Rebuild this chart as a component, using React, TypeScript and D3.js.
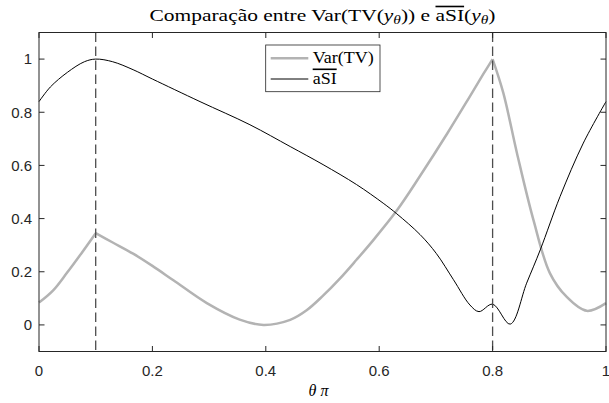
import * as d3 from "d3";

// theta/pi sample positions and values
const tVar = [0, 0.025, 0.049, 0.075, 0.1, 0.13, 0.166, 0.2, 0.237, 0.296, 0.354, 0.396, 0.443, 0.472, 0.501, 0.531, 0.56, 0.59, 0.631, 0.672, 0.72, 0.76, 0.784, 0.8, 0.819, 0.843, 0.872, 0.901, 0.93, 0.966, 1];
const varTV = [0.084, 0.13, 0.195, 0.27, 0.345, 0.31, 0.268, 0.222, 0.168, 0.082, 0.02, 0, 0.019, 0.055, 0.11, 0.175, 0.245, 0.32, 0.43, 0.56, 0.72, 0.86, 0.945, 1, 0.872, 0.646, 0.395, 0.195, 0.107, 0.053, 0.082];
const varKinks = [0.1, 0.8];

const tSI = [0, 0.02, 0.05, 0.08, 0.1, 0.13, 0.166, 0.2, 0.284, 0.372, 0.443, 0.501, 0.56, 0.607, 0.631, 0.672, 0.701, 0.731, 0.76, 0.776, 0.8, 0.831, 0.86, 0.884, 0.919, 0.96, 1];
const aSI = [0.84, 0.895, 0.95, 0.99, 1, 0.99, 0.96, 0.925, 0.84, 0.753, 0.671, 0.603, 0.528, 0.458, 0.418, 0.34, 0.268, 0.17, 0.075, 0.05, 0.078, 0.003, 0.157, 0.282, 0.483, 0.684, 0.84];

const markers = [0.1, 0.8];
const xTicks = [0, 0.2, 0.4, 0.6, 0.8, 1];
const yTicks = [0, 0.2, 0.4, 0.6, 0.8, 1];

const W = 609, H = 403;
const L = 39, R = 606, T = 32.5, B = 351.5;
const axisCol = "#262626";
const sans = "Liberation Sans, Arial, sans-serif";
const serif = "Liberation Serif, Times New Roman, serif";

export default function App() {
  const x = d3.scaleLinear().domain([0, 1]).range([L, R]);
  const y = d3.scaleLinear().domain([-0.1, 1.1]).range([B, T]);
  const line = d3
    .line<[number, number]>()
    .x((d) => x(d[0]))
    .y((d) => y(d[1]))
    .curve(d3.curveCatmullRom.alpha(0.5));

  // split the Var(TV) curve at its corners so they stay sharp
  const varPts: [number, number][] = tVar.map((t, i) => [t, varTV[i]]);
  const cuts = [0, ...varKinks.map((k) => tVar.indexOf(k)), tVar.length - 1];
  const varPaths = cuts.slice(1).map((c, i) => line(varPts.slice(cuts[i], c + 1)) as string);
  const siPath = line(tSI.map((t, i) => [t, aSI[i]] as [number, number])) as string;

  const tick = 5.5;
  return (
    <svg width={W} height={H} style={{ position: "absolute", left: 0, top: 0, background: "#fff" }}>
      <rect x={L} y={T} width={R - L} height={B - T} fill="#fff" />
      {varPaths.map((p, i) => (
        <path key={i} d={p} fill="none" stroke="#b3b3b3" strokeWidth={2.5} strokeLinejoin="round" />
      ))}
      <path d={siPath} fill="none" stroke="#000" strokeWidth={1} />
      {markers.map((m) => (
        <line key={m} x1={x(m)} x2={x(m)} y1={T} y2={B} stroke="#4d4d4d" strokeWidth={1.3} strokeDasharray="9.5,4.5" />
      ))}

      {/* axes box */}
      <rect x={L} y={T} width={R - L} height={B - T} fill="none" stroke={axisCol} strokeWidth={1} />
      {xTicks.map((v) => (
        <g key={"x" + v}>
          <line x1={x(v)} x2={x(v)} y1={B} y2={B - tick} stroke={axisCol} />
          <line x1={x(v)} x2={x(v)} y1={T} y2={T + tick} stroke={axisCol} />
          <text x={x(v)} y={B + 24.5} textAnchor="middle" fontFamily={sans} fontSize={15} fill={axisCol}>
            {v}
          </text>
        </g>
      ))}
      {yTicks.map((v) => (
        <g key={"y" + v}>
          <line x1={L} x2={L + tick} y1={y(v)} y2={y(v)} stroke={axisCol} />
          <line x1={R} x2={R - tick} y1={y(v)} y2={y(v)} stroke={axisCol} />
          <text x={L - 7} y={y(v)} dy="0.36em" textAnchor="end" fontFamily={sans} fontSize={15} fill={axisCol}>
            {v}
          </text>
        </g>
      ))}

      {/* title */}
      <text
        x={(L + R) / 2}
        y={20.7}
        textAnchor="middle"
        fontFamily={serif}
        fontSize={16}
        fill="#000"
        textLength={346}
        lengthAdjust="spacingAndGlyphs"
      >
        Comparação entre Var(TV(<tspan fontStyle="italic">y</tspan>
        <tspan fontStyle="italic" fontSize={11.5} dy={3}>θ</tspan>
        <tspan dy={-3}>)) e </tspan>
        <tspan style={{ textDecoration: "overline" }}>aSI</tspan>(<tspan fontStyle="italic">y</tspan>
        <tspan fontStyle="italic" fontSize={11.5} dy={3}>θ</tspan>
        <tspan dy={-3}>)</tspan>
      </text>

      {/* x label */}
      <text x={(L + R) / 2 - 4} y={396} textAnchor="middle" fontFamily={serif} fontSize={16} fontStyle="italic" fill="#000">
        θ π
      </text>

      {/* legend */}
      <rect x={265.7} y={45} width={114.3} height={46.7} fill="#fff" stroke={axisCol} strokeWidth={0.8} />
      <line x1={270.7} x2={308.3} y1={58.3} y2={58.3} stroke="#b3b3b3" strokeWidth={2.5} />
      <line x1={270.7} x2={308.3} y1={79} y2={79} stroke="#000" strokeWidth={1} />
      <text x={312.7} y={63} fontFamily={serif} fontSize={16} fill="#000" textLength={61} lengthAdjust="spacingAndGlyphs">
        Var(TV)
      </text>
      <text
        x={312.7}
        y={83.5}
        fontFamily={serif}
        fontSize={16}
        fill="#000"
        textLength={24}
        lengthAdjust="spacingAndGlyphs"
        style={{ textDecoration: "overline" }}
      >
        aSI
      </text>
    </svg>
  );
}
